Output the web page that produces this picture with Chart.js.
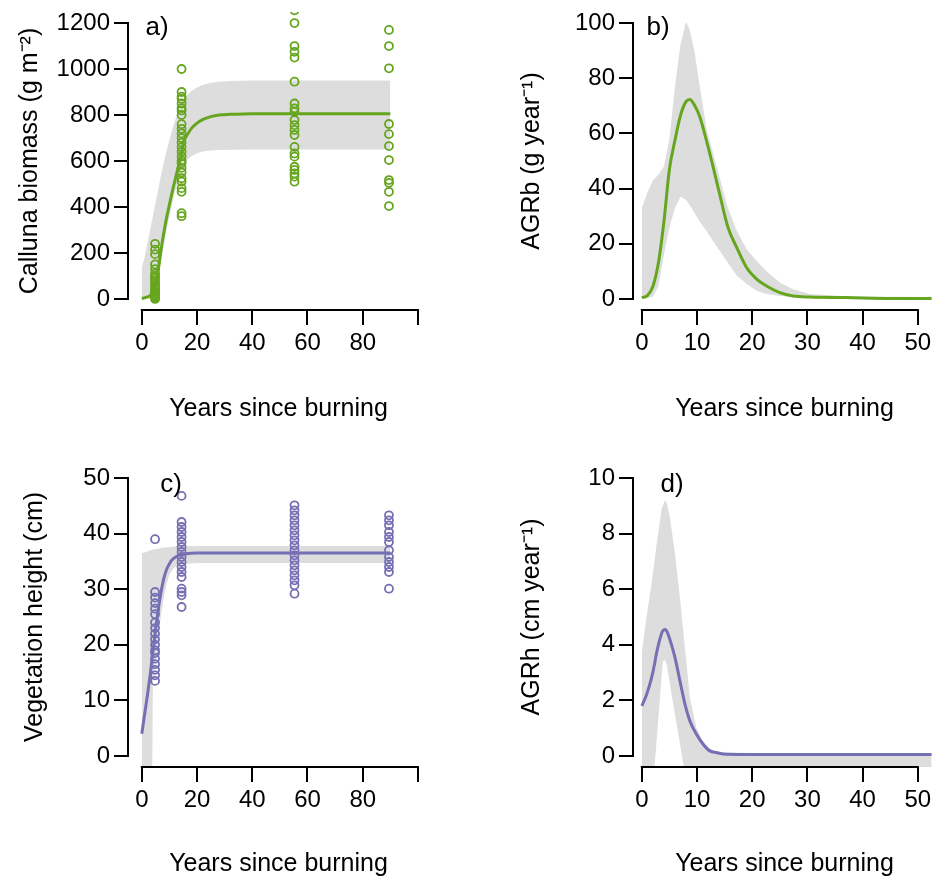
<!DOCTYPE html>
<html>
<head>
<meta charset="utf-8">
<script src="https://cdn.jsdelivr.net/npm/chart.js@4.4.1/dist/chart.umd.min.js"></script>
<style>
  html, body { margin: 0; padding: 0; background: #fff; }
  #wrap { position: relative; width: 936px; height: 879px; }
  canvas { position: absolute; }
</style>
</head>
<body>
<div id="wrap">
  <canvas id="chartA" width="468" height="440" style="left:0;top:0"></canvas>
  <canvas id="chartB" width="468" height="440" style="left:468px;top:0"></canvas>
  <canvas id="chartC" width="468" height="439" style="left:0;top:440px"></canvas>
  <canvas id="chartD" width="468" height="439" style="left:468px;top:440px"></canvas>
</div>
<script>
// ---- a) Calluna biomass ----
var yearsA      = [0, 1, 2, 3, 4, 4.5, 5, 6, 7, 8, 9, 10, 11, 12, 13, 14, 14.5, 15, 16, 17, 18, 20, 22, 25, 28, 32, 40, 90];
var biomassFit  = [2, 5, 9, 15, 30, 45, 65, 130, 215, 290, 355, 410, 465, 515, 565, 610, 640, 680, 705, 725, 742, 765, 780, 793, 800, 803, 806, 806];
var biomassHi   = [135, 180, 240, 300, 360, 390, 420, 480, 540, 595, 645, 690, 735, 775, 810, 840, 852, 862, 880, 893, 905, 920, 930, 940, 945, 948, 950, 950];
var biomassLo   = [0, 0, 0, 0, 0, 10, 30, 100, 170, 240, 300, 360, 415, 465, 510, 548, 563, 578, 598, 612, 622, 634, 641, 646, 648, 649, 650, 650];
var sites       = [4.8, 14.4, 55.3, 89.5];   // stand ages sampled
var biomassObs1 = [0, 5, 10, 15, 20, 25, 30, 40, 50, 60, 70, 80, 90, 100, 110, 130, 150, 195, 215, 240];
var biomassObs2 = [1000, 900, 880, 870, 850, 830, 820, 800, 760, 740, 720, 700, 680, 660, 640, 620, 600, 590, 570, 550, 525, 510, 482, 466, 373, 360];
var biomassObs3 = [1255, 1200, 1100, 1075, 1050, 945, 850, 829, 814, 778, 756, 735, 713, 661, 633, 619, 575, 561, 546, 532, 510];
var biomassObs4 = [1170, 1100, 1003, 761, 717, 665, 604, 517, 505, 466, 404];

// ---- b) AGRb ----
var yearsB  = [0, 1, 2, 3, 4, 5, 6, 7, 8, 8.7, 9.6, 10.5, 11.7, 12.9, 14.1, 15.6, 17.2, 19, 20.8, 22.6, 25, 27.4, 30.4, 37, 45, 52.5];
var agrbFit = [0.5, 1.2, 4.5, 13, 28, 47, 57.5, 66.5, 71.5, 72.3, 70, 66, 57.5, 48, 38, 26, 18.6, 11.3, 7.2, 4.7, 2.3, 1.1, 0.7, 0.5, 0.2, 0.2];
var agrbHi  = [33, 38.5, 43, 45, 48, 58, 77, 92, 100.5, 97.5, 89, 77, 62, 53, 44, 33, 24.7, 18, 13.8, 10, 6, 3.5, 1.8, 1, 0.8, 0.7];
var agrbLo  = [0.3, 0.3, 0.8, 4.5, 16, 26, 33, 37, 36, 34, 31, 28, 24.7, 21, 17.5, 13, 8.5, 5.4, 3, 1.8, 1.1, 0.7, 0.5, 0.3, 0.2, 0.1];

// ---- c) Vegetation height ----
var yearsC    = [0, 1, 2, 3, 3.8, 4, 5, 6, 7, 8, 9, 10, 11, 12, 14, 16, 20, 90];
var heightFit = [4, 7.4, 10.8, 14.5, 17.8, 18.6, 22.8, 26.5, 29.6, 32, 33.6, 34.6, 35.3, 35.7, 36.2, 36.4, 36.5, 36.5];
var heightHi  = [36.5, 36.6, 36.8, 37, 37.1, 37.1, 37.2, 37.3, 37.4, 37.5, 37.5, 37.6, 37.6, 37.7, 37.8, 37.8, 37.8, 37.8];
var heightLo  = [-2, -2, -2, -2, -2, 13, 17, 21.5, 25.5, 28.7, 31, 32.6, 33.5, 34, 34.4, 34.6, 34.7, 34.7];
var heightObs1 = [39, 29.5, 28.5, 27.5, 26.5, 25.5, 24, 23, 22, 21, 20, 19, 18.5, 17.5, 16.5, 15.5, 14.5, 13.5];
var heightObs2 = [46.8, 42.1, 41.2, 40.3, 39.4, 38.5, 37.6, 36.7, 35.8, 34.9, 34, 33.1, 32.2, 30.1, 29.5, 28.9, 26.8];
var heightObs3 = [45.1, 44.2, 43.3, 42.4, 41.5, 40.6, 39.7, 38.8, 37.9, 37, 36.1, 35.2, 34.3, 33.4, 32.5, 31.6, 30.7, 29.2];
var heightObs4 = [43.3, 42.4, 41.5, 40.3, 39.4, 38.5, 37, 35.8, 34.9, 34, 33.1, 30.1];

// ---- d) AGRh ----
var yearsD  = [0, 0.85, 1.75, 2.3, 2.66, 3.56, 3.8, 4.2, 4.5, 5.07, 6, 6.9, 7.6, 7.8, 8.7, 9.9, 11.1, 12.3, 13.5, 15.3, 20, 30, 52.5];
var agrhFit = [1.8, 2.2, 2.8, 3.3, 3.7, 4.4, 4.5, 4.55, 4.5, 4.2, 3.55, 2.7, 2.05, 1.87, 1.26, 0.78, 0.42, 0.18, 0.12, 0.06, 0.05, 0.05, 0.05];
var agrhHi  = [3.7, 5, 6.2, 7, 7.6, 8.85, 9, 9.2, 9.1, 8.6, 7.3, 5.7, 4.3, 3.9, 2.1, 1, 0.54, 0.27, 0.17, 0.12, 0.1, 0.1, 0.1];
var agrhLo  = [-0.4, -0.4, -0.4, -0.4, 0.5, 2.8, 3.4, 3.45, 3.3, 2.6, 1.5, 0.45, -0.4, -0.4, -0.4, -0.4, -0.4, -0.4, -0.4, -0.4, -0.4, -0.4, -0.4];

// ticks and their labels
var ticksYearsLong  = [0, 20, 40, 60, 80, 100];
var labelsYearsLong = ['0', '20', '40', '60', '80', ''];   // 100 tick is unlabelled
var ticksYearsShort = [0, 10, 20, 30, 40, 50];
var ticksBiomass    = [0, 200, 400, 600, 800, 1000, 1200];
var ticksAgrb       = [0, 20, 40, 60, 80, 100];
var ticksHeight     = [0, 10, 20, 30, 40, 50];
var ticksAgrh       = [0, 2, 4, 6, 8, 10];

var GREEN = '#66a61e', PURPLE = '#7570b3', BAND = '#dddddd';
var FONT = "'Liberation Sans', Arial, sans-serif";

function xy(xs, ys) {
    return xs.map(function (x, i) { return { x: x, y: ys[i] }; });
}
function obsPoints(groups) {
    var pts = [];
    groups.forEach(function (g, i) {
        g.forEach(function (v) { pts.push({ x: sites[i], y: v }); });
    });
    return pts;
}

// R-style detached axis lines + panel letter
var rAxes = {
    id: 'rAxes',
    afterDraw: function (chart, args, opts) {
        var ctx = chart.ctx, area = chart.chartArea;
        var x = chart.scales.x, y = chart.scales.y;
        var xt = x.ticks, yt = y.ticks;
        ctx.save();
        ctx.strokeStyle = '#000';
        ctx.lineWidth = 2;
        ctx.beginPath();
        ctx.moveTo(x.getPixelForValue(xt[0].value) - 1, area.bottom);
        ctx.lineTo(x.getPixelForValue(xt[xt.length - 1].value) + 1, area.bottom);
        ctx.moveTo(area.left, y.getPixelForValue(yt[0].value) + 1);
        ctx.lineTo(area.left, y.getPixelForValue(yt[yt.length - 1].value) - 1);
        ctx.stroke();
        ctx.fillStyle = '#000';
        ctx.font = '26px ' + FONT;
        ctx.textAlign = 'center';
        ctx.textBaseline = 'middle';
        ctx.fillText(opts.text, opts.x, opts.y);
        ctx.restore();
    }
};

function makeChart(id, o) {
    var datasets = [
        { data: xy(o.years, o.fit), showLine: true, borderColor: o.color, borderWidth: 3,
          pointRadius: 0, fill: false, cubicInterpolationMode: 'monotone' },
        { data: o.hi, showLine: true, borderColor: 'rgba(0,0,0,0)', borderWidth: 0, pointRadius: 0,
          backgroundColor: BAND, fill: '+1', clip: 0 },
        { data: o.lo, showLine: true, borderColor: 'rgba(0,0,0,0)', borderWidth: 0, pointRadius: 0,
          fill: false, clip: 0 }
    ];
    if (o.obs) {
        datasets.splice(1, 0, { data: o.obs, showLine: false, pointRadius: 4, pointBorderWidth: 1.8,
            borderColor: o.color, backgroundColor: 'rgba(0,0,0,0)', clip: 0 });
    }
    var tickFont = { family: FONT, size: 24 };
    var titleFont = { family: FONT, size: 25 };
    var grid = { display: true, drawOnChartArea: false, drawTicks: true, tickLength: 14, color: '#000', lineWidth: 2 };
    return new Chart(document.getElementById(id), {
        type: 'scatter',
        data: { datasets: datasets },
        plugins: [rAxes],
        options: {
            responsive: false,
            animation: false,
            events: [],
            layout: { padding: { left: 0, top: o.padTop, right: o.padRight, bottom: 0 } },
            plugins: {
                legend: { display: false },
                tooltip: { enabled: false },
                rAxes: o.label
            },
            scales: {
                x: {
                    type: 'linear', min: o.xMin, max: o.xMax,
                    afterBuildTicks: function (s) { s.ticks = o.xTicks.map(function (v) { return { value: v }; }); },
                    afterFit: function (s) { s.height = o.xH; s.paddingLeft = 0; s.paddingRight = 0; },
                    grid: Object.assign({}, grid, { tickLength: 15 }),
                    border: { display: false },
                    ticks: { autoSkip: false, maxRotation: 0, padding: 4, color: '#000', font: tickFont,
                             callback: function (v, i) { return o.xLabels ? o.xLabels[i] : String(v); } },
                    title: { display: true, text: 'Years since burning', color: '#000', font: titleFont,
                             padding: { top: 0, bottom: o.xTitlePad } }
                },
                y: {
                    type: 'linear', min: o.yMin, max: o.yMax,
                    afterBuildTicks: function (s) { s.ticks = o.yTicks.map(function (v) { return { value: v }; }); },
                    afterFit: function (s) { s.width = o.yW; s.paddingTop = 0; s.paddingBottom = 0; },
                    grid: grid,
                    border: { display: false },
                    ticks: { autoSkip: false, padding: 4, color: '#000', font: tickFont,
                             callback: function (v) { return String(v); } },
                    title: { display: true, text: o.yTitle, color: '#000', font: titleFont,
                             padding: { top: o.yTitlePad, bottom: 0 } }
                }
            }
        }
    });
}

makeChart('chartA', {
    years: yearsA, fit: biomassFit, hi: xy(yearsA, biomassHi), lo: xy(yearsA, biomassLo),
    obs: obsPoints([biomassObs1, biomassObs2, biomassObs3, biomassObs4]),
    color: GREEN, xMin: -5, xMax: 104, yMin: -48, yMax: 1248,
    xTicks: ticksYearsLong, xLabels: labelsYearsLong, yTicks: ticksBiomass,
    yTitle: 'Calluna biomass (g m\u207B\u00B2)',
    padTop: 12, padRight: 39, yW: 128, xH: 130, xTitlePad: 16, yTitlePad: 15,
    label: { text: 'a)', x: 157, y: 28 }
});

makeChart('chartB', {
    years: yearsB, fit: agrbFit, hi: xy(yearsB, agrbHi), lo: xy(yearsB, agrbLo),
    color: GREEN, xMin: -1.6, xMax: 53.3, yMin: -4, yMax: 104,
    xTicks: ticksYearsShort, yTicks: ticksAgrb,
    yTitle: 'AGRb (g year\u207B\u00B9)',
    padTop: 12, padRight: 0, yW: 165, xH: 130, xTitlePad: 16, yTitlePad: 49,
    label: { text: 'b)', x: 190, y: 28 }
});

makeChart('chartC', {
    years: yearsC, fit: heightFit, hi: xy(yearsC, heightHi), lo: xy(yearsC, heightLo),
    obs: obsPoints([heightObs1, heightObs2, heightObs3, heightObs4]),
    color: PURPLE, xMin: -5, xMax: 104, yMin: -2, yMax: 52,
    xTicks: ticksYearsLong, xLabels: labelsYearsLong, yTicks: ticksHeight,
    yTitle: 'Vegetation height (cm)',
    padTop: 27, padRight: 39, yW: 128, xH: 112, xTitlePad: 0, yTitlePad: 20,
    label: { text: 'c)', x: 171, y: 45 }
});

makeChart('chartD', {
    years: yearsD, fit: agrhFit, hi: xy(yearsD, agrhHi), lo: xy(yearsD, agrhLo),
    color: PURPLE, xMin: -1.6, xMax: 53.3, yMin: -0.4, yMax: 10.4,
    xTicks: ticksYearsShort, yTicks: ticksAgrh,
    yTitle: 'AGRh (cm year\u207B\u00B9)',
    padTop: 27, padRight: 0, yW: 165, xH: 112, xTitlePad: 0, yTitlePad: 49,
    label: { text: 'd)', x: 204, y: 45 }
});
</script>
</body>
</html>
